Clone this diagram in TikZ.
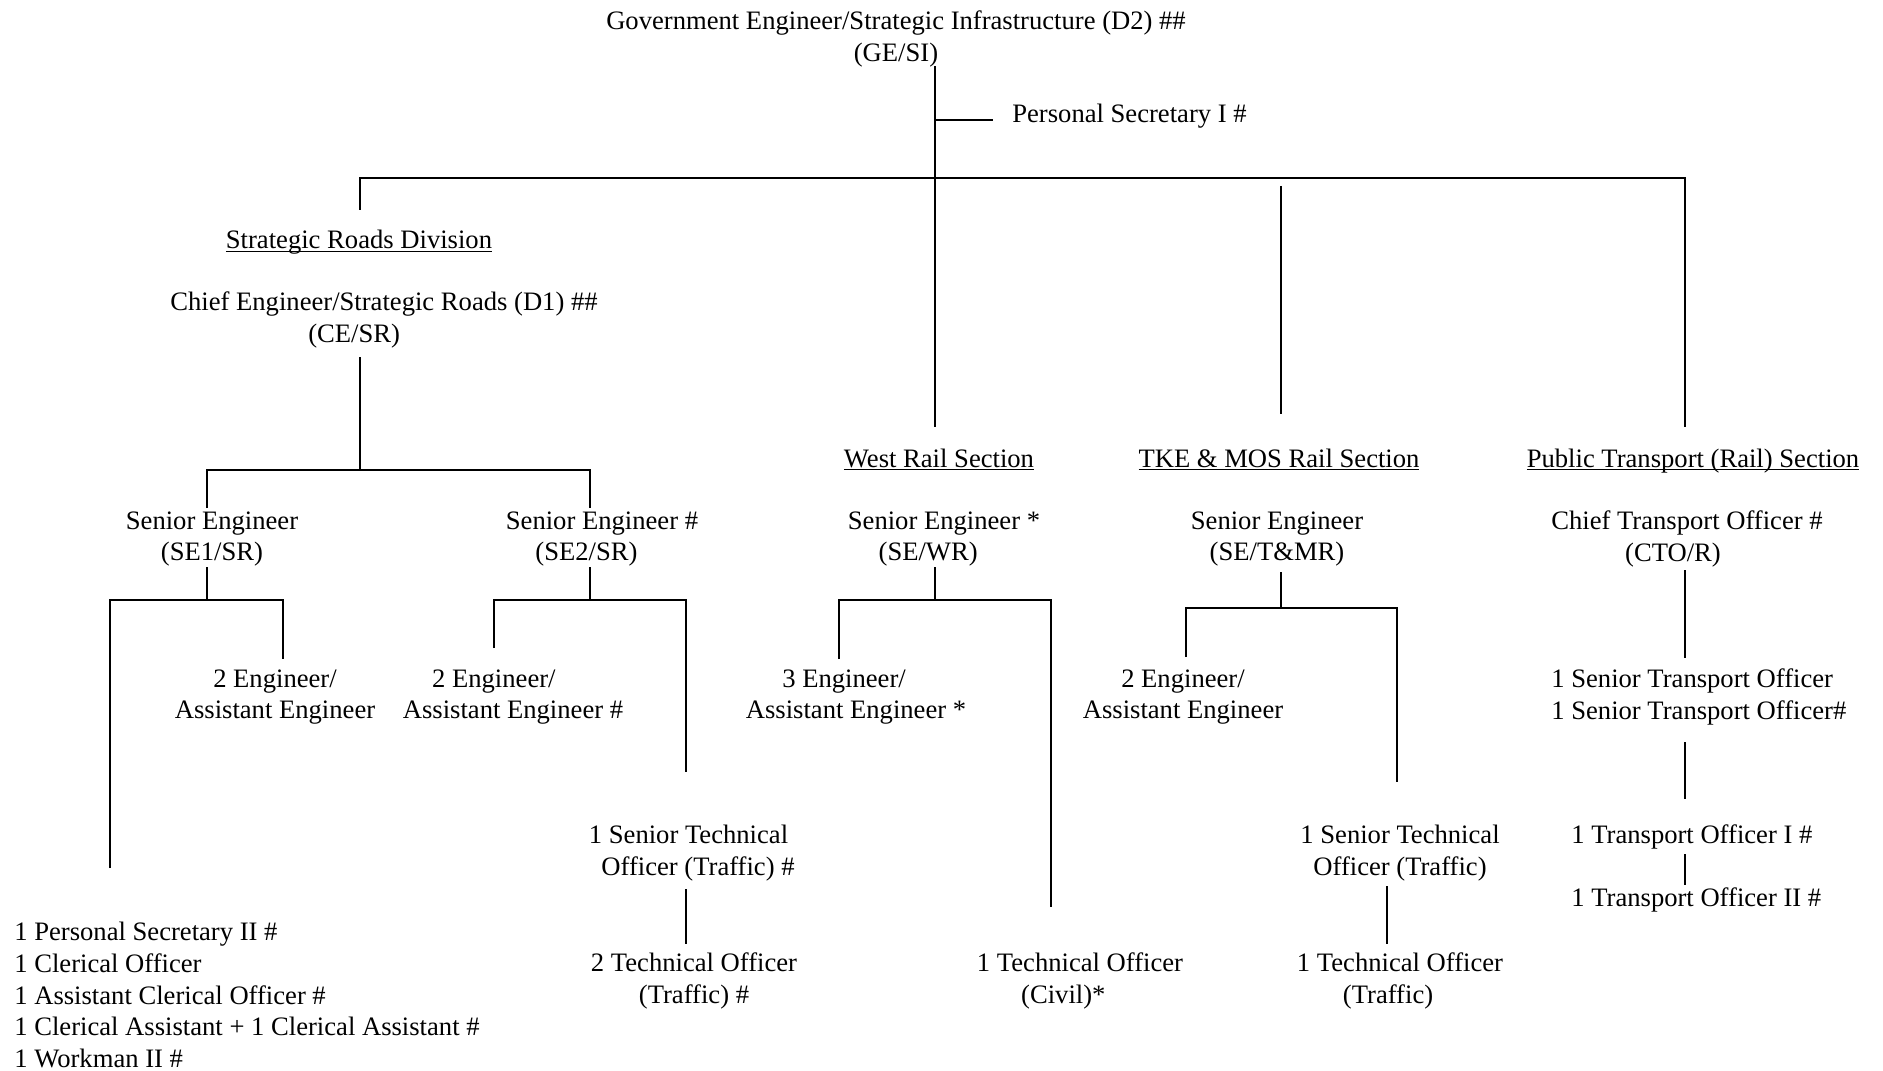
\documentclass[tikz,border=0pt]{standalone}
\usepackage{fontspec}
\setmainfont{Liberation Serif}

\newcommand\secname[1]{\underline{\smash{#1}}}

\tikzset{
  post/.style={align=center, inner sep=0pt, font=\fontsize{15.15}{18.1}\selectfont},
  postl/.style={post, align=left, anchor=west},
  sect/.style={post, anchor=base},
  link/.style={line width=1.1pt, line join=miter}
}

\begin{document}
\begin{tikzpicture}[x=0.02cm, y=-0.02cm]
    \useasboundingbox (0,0) rectangle (1883,1071);

    % posts
    \node[post] (ge) at (896,39) {Government Engineer/Strategic Infrastructure (D2) \#\#\\(GE/SI)};
    \node[postl] (ps) at (1012,116) {Personal Secretary I \#};

    \node[sect] (srd) at (359,249) {\secname{Strategic Roads Division}};
    \node[post] (ce) at (384,320) {Chief Engineer/Strategic Roads (D1) \#\#\\(CE/SR)\hspace*{34pt}};
    \node[sect] (wrs) at (939,467) {\secname{West Rail Section}};
    \node[sect] (tks) at (1279,467) {\secname{TKE \& MOS Rail Section}};
    \node[sect] (pts) at (1693,467) {\secname{Public Transport (Rail) Section}};

    \node[post] (se1) at (212,539) {Senior Engineer\\(SE1/SR)};
    \node[post] (se2) at (602,539) {Senior Engineer \#\\(SE2/SR)\hspace*{17.7pt}};
    \node[post] (sewr) at (944,539) {Senior Engineer *\\(SE/WR)\hspace*{18pt}};
    \node[post] (setm) at (1277,539) {Senior Engineer\\(SE/T\&MR)};
    \node[post] (cto) at (1687,539) {Chief Transport Officer \#\\(CTO/R)\hspace*{16pt}};

    \node[post] (ae1) at (275,697) {2 Engineer/\\Assistant Engineer};
    \node[post] (ae2) at (513,697) {2 Engineer/\hspace*{21.8pt}\\Assistant Engineer \#};
    \node[post] (ae3) at (856,697) {3 Engineer/\hspace*{13.6pt}\\Assistant Engineer *};
    \node[post] (ae4) at (1183,697) {2 Engineer/\\Assistant Engineer};
    \node[postl] (sto5) at (1551,697) {1 Senior Transport Officer\\1 Senior Transport Officer\#};

    \node[post] (sto2) at (698,853) {1 Senior Technical\hspace*{10.8pt}\\Officer (Traffic) \#};
    \node[post] (sto4) at (1400,853) {1 Senior Technical\\Officer (Traffic)};
    \node[postl] (tro1) at (1571,837) {1 Transport Officer I \#};
    \node[postl] (tro2) at (1571,900) {1 Transport Officer II \#};

    \node[post] (to2) at (694,981) {2 Technical Officer\\(Traffic) \#};
    \node[post] (to3) at (1080,981) {1 Technical Officer\\(Civil)*\hspace*{19pt}};
    \node[post] (to4) at (1400,981) {1 Technical Officer\\(Traffic)\hspace*{13.6pt}};
    \node[postl] (clerk) at (14,995) {1 Personal Secretary II \#\\1 Clerical Officer\\1 Assistant Clerical Officer \#\\1 Clerical Assistant + 1 Clerical Assistant \#\\1 Workman II \#};

    % junctions
    \coordinate (geS) at (935,66);
    \coordinate (psL) at (935,120);
    \coordinate (psR) at (993,120);
    \coordinate (busL) at (360,178);
    \coordinate (busR) at (1685,178);
    \coordinate (srdN) at (360,210);
    \coordinate (wrsN) at (935,427);
    \coordinate (tksT) at (1281,186);
    \coordinate (tksN) at (1281,414);
    \coordinate (ptsN) at (1685,427);
    \coordinate (ceS) at (360,357);
    \coordinate (srBus) at (360,470);

    % top level
    \draw[link] (geS) -- (wrsN);
    \draw[link] (psL) -- (psR);
    \draw[link] (srdN) -- (busL) -- (busR) -- (ptsN);
    \draw[link] (tksT) -- (tksN);

    % strategic roads
    \draw[link] (ceS) -- (srBus);
    \draw[link] (207,508) -- (207,470) -- (590,470) -- (590,508);

    \draw[link] (207,567) -- (207,600);
    \draw[link] (110,868) -- (110,600) -- (283,600) -- (283,659);

    \draw[link] (590,567) -- (590,600);
    \draw[link] (494,648) -- (494,600) -- (686,600) -- (686,772);
    \draw[link] (686,889) -- (686,944);

    % west rail
    \draw[link] (935,567) -- (935,600);
    \draw[link] (839,659) -- (839,600) -- (1051,600) -- (1051,907);

    % tke & mos rail
    \draw[link] (1281,572) -- (1281,608);
    \draw[link] (1186,657) -- (1186,608) -- (1397,608) -- (1397,782);
    \draw[link] (1387,886) -- (1387,944);

    % public transport
    \draw[link] (1685,570) -- (1685,658);
    \draw[link] (1685,742) -- (1685,799);
    \draw[link] (1685,854) -- (1685,885);
\end{tikzpicture}
\end{document}
